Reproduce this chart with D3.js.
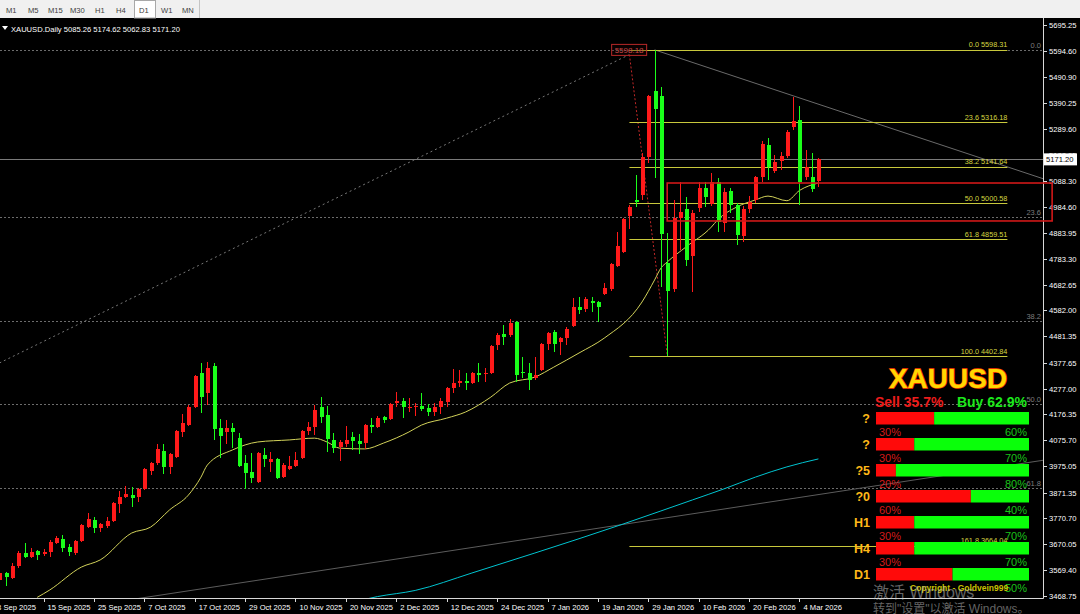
<!DOCTYPE html>
<html><head><meta charset="utf-8">
<script src="https://cdn.jsdelivr.net/npm/d3@7"></script>
<style>html,body{margin:0;padding:0;background:#000;overflow:hidden}</style>
</head><body><svg id="c" width="1080" height="614"></svg>
<script>
// ---------------- DATA ----------------
const opens=[3531,3558,3539,3585,3636,3620,3644,3632,3640,3675,
3691,3659,3636,3683,3737,3765,3734,3741,3761,3827,
3854,3862,3854,3886,3956,3987,4034,3971,4010,4108,
4135,4205,4338,4260,4365,4124,4108,4124,4085,3987,
3952,3913,4018,3991,4003,3932,3964,3975,4007,4112,
4127,4205,4174,4077,4049,4061,4088,4073,4065,4135,
4127,4166,4159,4221,4229,4202,4205,4209,4202,4186,
4205,4225,4280,4299,4307,4299,4338,4334,4338,4447,
4490,4486,4537,4342,4338,4319,4350,4451,4498,4459,
4475,4521,4595,4588,4619,4615,4646,4666,4755,4810,
4950,5013,5032,5180,5438,5418,4767,4666,4943,4978,
4794,4982,5060,4997,5083,4923,5048,4993,4872,4978,
5013,5102,5227,5126,5165,5184,5297,5325,5102,5102,
5085.26];
const highs=[3570,3562,3597,3644,3675,3656,3648,3652,3687,3702,
3706,3671,3687,3749,3792,3776,3753,3776,3835,3878,
3897,3893,3890,3968,3991,4061,4061,4026,4116,4178,
4213,4330,4377,4381,4377,4159,4155,4143,4104,4018,
4026,4030,4046,4030,4007,3987,4014,4030,4116,4147,
4213,4244,4209,4104,4077,4131,4108,4100,4139,4163,
4170,4170,4221,4264,4241,4241,4221,4260,4217,4221,
4241,4283,4354,4350,4338,4342,4377,4358,4447,4494,
4525,4549,4541,4400,4377,4400,4455,4498,4506,4478,
4517,4631,4634,4634,4634,4619,4689,4767,4888,4943,
4993,5110,5196,5422,5598.31,5453,4884,5013,5083,5024,
4974,5083,5083,5118,5099,5060,5060,5001,4989,5028,
5106,5243,5255,5188,5200,5286,5414,5379,5208,5196,
5174.62];
const lows=[3519,3507,3535,3578,3617,3617,3609,3624,3620,3671,
3640,3624,3628,3679,3734,3714,3718,3734,3757,3792,
3851,3815,3835,3882,3940,3979,3944,3944,4007,4088,
4131,4202,4182,4213,4077,4007,4061,4046,3971,3886,
3909,3909,3971,3952,3925,3929,3960,3971,4003,4096,
4096,4143,4030,4026,3995,4049,4038,4022,4042,4104,
4124,4143,4155,4205,4163,4186,4170,4190,4170,4170,
4178,4205,4260,4283,4272,4295,4303,4303,4334,4428,
4447,4478,4303,4319,4272,4311,4346,4428,4420,4408,
4447,4517,4568,4576,4576,4537,4642,4658,4751,4806,
4900,4985,5013,5157,5099,4673,4402.84,4654,4818,4755,
4654,4966,4985,4989,4888,4888,4962,4837,4849,4962,
5001,5083,5091,5118,5130,5177,5286,4993,5091,5044,
5062.83];
const closes=[3558,3542,3585,3636,3620,3640,3628,3640,3679,3695,
3656,3640,3683,3745,3769,3734,3749,3761,3831,3854,
3866,3851,3886,3964,3987,4042,3971,4022,4112,4143,
4205,4326,4244,4358,4120,4092,4124,4108,3975,3948,
3929,4026,4003,4003,3929,3979,3975,3999,4112,4127,
4194,4166,4081,4046,4069,4077,4073,4061,4135,4127,
4163,4155,4217,4229,4205,4206,4209,4198,4186,4205,
4229,4280,4299,4307,4299,4338,4330,4337,4443,4486,
4478,4533,4330,4338,4311,4330,4451,4494,4451,4475,
4510,4595,4584,4627,4611,4595,4670,4763,4833,4939,
4985,5005,5180,5418,5368,4880,4658,4943,4966,4779,
4962,5060,5024,5083,4927,5044,4993,4876,4978,5005,
5102,5231,5141,5161,5184,5278,5321,5083,5141,5056,
5171.20];

const dateLabels=["8 Sep 2025","15 Sep 2025","25 Sep 2025","7 Oct 2025","17 Oct 2025","29 Oct 2025","10 Nov 2025","20 Nov 2025","2 Dec 2025","12 Dec 2025","24 Dec 2025","7 Jan 2026","19 Jan 2026","29 Jan 2026","10 Feb 2026","20 Feb 2026","4 Mar 2026"];
const dateBars=[-1,7,15,23,31,39,47,55,63,71,79,87,95,103,111,119,127];
const priceTicks=[5695.25,5594.60,5490.90,5390.25,5289.60,5188.95,5088.30,4984.60,4883.95,4783.30,4682.65,4582.00,4481.35,4377.65,4277.00,4176.35,4075.70,3975.05,3871.35,3770.70,3670.05,3569.40,3468.75];

const maYellow=[[6,3463],[8,3492],[13,3581],[16,3609],[21,3714],[24,3737],[27,3804],[30,3862],[32,3932],[33,3979],[37,4038],[41,4069],[46,4077],[50,4084],[52,4069],[54,4045],[58,4042],[61,4065],[65,4108],[67,4135],[71,4162],[74,4186],[78,4244],[81,4299],[85,4322],[88,4361],[92,4416],[96,4474],[102,4615],[104,4701],[105,4747],[106,4771],[109,4830],[113,4907],[114,4935],[117,4985],[120,5013],[122,5028],[125,5010],[127,5050],[130,5079]];
const maCyan=[[57,3450],[60,3466],[66,3490],[75,3558],[85,3636],[99,3749],[105,3800],[110,3843],[115,3886],[120,3932],[125,3972],[130,4003]];

const fibYellowHigh=5598.31, fibYellowLow=4402.84;
const fibYellowLevels=[0,23.6,38.2,50,61.8,100,161.8];
const fibYellowBars=[100,160];
const fibGreyHigh=5596, fibGreyLow=2836;
const fibGreyLevels=[0,23.6,38.2,50,61.8];

const trendDown=[[104,5598.31],[166,5093]];
const trendUp=[[20,3451],[166,3999]];
const dottedGrey=[[0,4377],[100,5580]];
const dottedRed=[[100,5580],[106,4410]];
const zoneBars=[106,167.1], zonePrices=[5079,4931];
const markLabel={bar:97.5,price:5598.18};
const lastPrice=5171.20;
const headerText="XAUUSD.Daily 5085.26 5174.62 5062.83 5171.20";
const timeframes=["M1","M5","M15","M30","H1","H4","D1","W1","MN"];
const tfX=[6,28,48,70,95,116,139,161,182];

const panelRows=["?","?","?5","?0","H1","H4","D1"];
const sellBar=[38,25,13,62,25,25,50];
const sellPct=["30%","30%","20%","60%","30%","30%",""];
const buyPct=["60%","70%","80%","40%","70%","70%","50%"];
const sellTotal="Sell 35.7%", buyTotal="Buy 62.9%";

// ---------------- DRAW ----------------
const F="Liberation Sans, Arial, sans-serif";
const svg=d3.select("#c");
svg.append("rect").attr("width",1080).attr("height",614).attr("fill","#000");

const x=d3.scaleLinear().domain([0,130]).range([-0.6,818.4]);
const y=d3.scaleLinear().domain([3468.75,5695.25]).range([595.9,25]);

// toolbar
svg.append("rect").attr("x",0).attr("y",0).attr("width",1080).attr("height",18).attr("fill","#f0f0f0");
svg.append("rect").attr("x",134.5).attr("y",0.5).attr("width",21).attr("height",17.5).attr("fill","#fff").attr("stroke","#a8a8a8");
svg.append("line").attr("x1",199.5).attr("x2",199.5).attr("y1",0).attr("y2",18).attr("stroke","#c4c4c4");
svg.selectAll("text.tf").data(timeframes).enter().append("text")
  .attr("x",(d,i)=>tfX[i]).attr("y",12.5).attr("font-family",F).attr("font-size",7.6)
  .attr("fill","#404040").text(d=>d);

const defs=svg.append("defs");
defs.append("clipPath").attr("id","clip").append("rect").attr("x",0).attr("y",18).attr("width",1043).attr("height",580);
const g=svg.append("g").attr("clip-path","url(#clip)");

// grey fib dashed levels
const greyP=l=>fibGreyHigh-l/100*(fibGreyHigh-fibGreyLow);
g.selectAll("line.gf").data(fibGreyLevels).enter().append("line")
  .attr("x1",0).attr("x2",1043).attr("y1",d=>Math.round(y(greyP(d)))+0.5).attr("y2",d=>Math.round(y(greyP(d)))+0.5)
  .attr("stroke","#6c6c6c").attr("stroke-dasharray","2,2");
g.selectAll("text.gf").data(fibGreyLevels).enter().append("text")
  .attr("x",1041).attr("y",d=>y(greyP(d))-2).attr("text-anchor","end")
  .attr("font-family",F).attr("font-size",7.5).attr("fill","#7c7c7c").text(d=>d.toFixed(1));

const seg=(pts,stroke,dash,w)=>g.append("line")
  .attr("x1",x(pts[0][0])).attr("y1",y(pts[0][1])).attr("x2",x(pts[1][0])).attr("y2",y(pts[1][1]))
  .attr("stroke",stroke).attr("stroke-width",w||1).attr("stroke-dasharray",dash||null);
seg(dottedGrey,"#777","2,3");
seg(trendUp,"#5c5c5c");
seg(trendDown,"#6a6a6a");
seg(dottedRed,"#c02828","2,2");

// current price line
g.append("line").attr("x1",0).attr("x2",1043).attr("y1",Math.round(y(lastPrice))+0.5).attr("y2",Math.round(y(lastPrice))+0.5).attr("stroke","#7a7a7a");

// moving averages
const ln=d3.line().x(d=>x(d[0])).y(d=>y(d[1])).curve(d3.curveMonotoneX);
g.append("path").attr("d",ln(maCyan)).attr("fill","none").attr("stroke","#00c4d0").attr("stroke-width",1);
g.append("path").attr("d",ln(maYellow)).attr("fill","none").attr("stroke","#d2d25a").attr("stroke-width",1);

// yellow fibonacci
const yelP=l=>fibYellowHigh-l/100*(fibYellowHigh-fibYellowLow);
g.selectAll("line.yf").data(fibYellowLevels).enter().append("line")
  .attr("x1",x(fibYellowBars[0])).attr("x2",x(fibYellowBars[1]))
  .attr("y1",d=>Math.round(y(yelP(d)))+0.5).attr("y2",d=>Math.round(y(yelP(d)))+0.5)
  .attr("stroke","#c8c83c");
g.selectAll("text.yf").data(fibYellowLevels).enter().append("text")
  .attr("x",x(fibYellowBars[1])).attr("y",d=>y(yelP(d))-2.5).attr("text-anchor","end")
  .attr("font-family",F).attr("font-size",7.3).attr("fill","#d6d640")
  .text(d=>d.toFixed(1)+" "+yelP(d).toFixed(2));

// candles
const idx=d3.range(opens.length);
const cg=g.append("g").attr("shape-rendering","crispEdges");
const col=i=>closes[i]>=opens[i]?"#ff1a1a":"#1aff1a";
cg.selectAll("line.w").data(idx).enter().append("line")
  .attr("x1",i=>Math.round(x(i))+0.5).attr("x2",i=>Math.round(x(i))+0.5)
  .attr("y1",i=>y(highs[i])).attr("y2",i=>y(lows[i])).attr("stroke",col);
cg.selectAll("rect.b").data(idx).enter().append("rect")
  .attr("x",i=>Math.round(x(i))-1.5).attr("width",4)
  .attr("y",i=>y(Math.max(opens[i],closes[i])))
  .attr("height",i=>Math.max(1,Math.abs(y(opens[i])-y(closes[i]))))
  .attr("fill",col);

// marker label 5598.18
const mx=x(markLabel.bar), my=y(markLabel.price);
svg.append("rect").attr("x",mx-2).attr("y",my-5.5).attr("width",35).attr("height",11)
  .attr("fill","#200000").attr("fill-opacity",0.3).attr("stroke","#b82828");
svg.append("text").attr("x",mx+1).attr("y",my+3).attr("font-family",F).attr("font-size",8)
  .attr("fill","#c84848").text(markLabel.price.toFixed(2));

// header
svg.append("path").attr("d","M2,26 L8,26 L5,30 Z").attr("fill","#fff");
svg.append("text").attr("x",11).attr("y",32).attr("font-family",F).attr("font-size",7.6).attr("fill","#fff").text(headerText);

// axes
svg.append("line").attr("x1",1043.5).attr("x2",1043.5).attr("y1",18).attr("y2",598.5).attr("stroke","#d8d8d8");
svg.append("line").attr("x1",0).attr("x2",1043.5).attr("y1",598.5).attr("y2",598.5).attr("stroke","#d8d8d8");
svg.selectAll("line.pt").data(priceTicks).enter().append("line")
  .attr("x1",1043.5).attr("x2",1047).attr("y1",d=>Math.round(y(d))+0.5).attr("y2",d=>Math.round(y(d))+0.5).attr("stroke","#d8d8d8");
svg.selectAll("text.pt").data(priceTicks).enter().append("text")
  .attr("x",1049).attr("y",d=>y(d)+3).attr("font-family",F).attr("font-size",7.6).attr("fill","#fff").text(d=>d.toFixed(2));
svg.selectAll("line.dt").data(dateBars).enter().append("line")
  .attr("x1",d=>Math.round(x(d))+0.5).attr("x2",d=>Math.round(x(d))+0.5).attr("y1",598.5).attr("y2",602).attr("stroke","#d8d8d8");
svg.selectAll("text.dt").data(dateLabels).enter().append("text")
  .attr("x",(d,i)=>x(dateBars[i])+4).attr("y",610).attr("font-family",F).attr("font-size",7.6).attr("fill","#fff").text(d=>d);

// last price label
const ly=y(lastPrice);
svg.append("rect").attr("x",1044).attr("y",ly-6).attr("width",33).attr("height",12).attr("fill","#fff");
svg.append("text").attr("x",1046).attr("y",ly+3).attr("font-family",F).attr("font-size",7.6).attr("fill","#000").text(lastPrice.toFixed(2));

// zone rectangle
svg.append("rect").attr("x",x(zoneBars[0])).attr("y",y(zonePrices[0]))
  .attr("width",x(zoneBars[1])-x(zoneBars[0])).attr("height",y(zonePrices[1])-y(zonePrices[0]))
  .attr("fill","none").attr("stroke","#d01818").attr("stroke-width",1.6);

// signal panel
const P=svg.append("g");
P.append("text").attr("x",948).attr("y",388).attr("text-anchor","middle").attr("font-family",F)
  .attr("font-weight","bold").attr("font-size",28).attr("fill","#ffd700").attr("stroke","#ff3a00")
  .attr("stroke-width",1.4).attr("paint-order","stroke").text("XAUUSD");
P.append("text").attr("x",875).attr("y",407).attr("font-family",F).attr("font-weight","bold").attr("font-size",14).attr("fill","#ee1c1c").text(sellTotal);
P.append("text").attr("x",1027).attr("y",407).attr("text-anchor","end").attr("font-family",F).attr("font-weight","bold").attr("font-size",14).attr("fill","#1ce81c").text(buyTotal);
const bx=876, bw=153, bh=12.5;
const rowTop=i=>412+i*26;
panelRows.forEach((r,i)=>{
  const t=rowTop(i);
  P.append("rect").attr("x",bx).attr("y",t).attr("width",bw*sellBar[i]/100).attr("height",bh).attr("fill","#ff0a0a");
  P.append("rect").attr("x",bx+bw*sellBar[i]/100).attr("y",t).attr("width",bw*(1-sellBar[i]/100)).attr("height",bh).attr("fill","#0aff0a");
  P.append("text").attr("x",870).attr("y",t+11).attr("text-anchor","end").attr("font-family",F).attr("font-weight","bold").attr("font-size",12.5).attr("fill","#ffb818").text(r);
  if(sellPct[i]) P.append("text").attr("x",879).attr("y",t+bh+11).attr("font-family",F).attr("font-size",11).attr("fill","#d41a1a").text(sellPct[i]);
  P.append("text").attr("x",1027).attr("y",t+bh+11).attr("text-anchor","end").attr("font-family",F).attr("font-size",11).attr("fill","#1ac21a").text(buyPct[i]);
});
P.append("text").attr("x",910).attr("y",591).attr("font-family",F).attr("font-weight","bold").attr("font-size",8.5).attr("fill","#c8c000").text("Copyright - Goldvein999");

// watermark
const WF="Liberation Sans, Noto Sans CJK SC, sans-serif";
svg.append("text").attr("x",873).attr("y",598).attr("font-family",WF).attr("font-size",16).attr("fill","#c8c8c8").attr("fill-opacity",0.5).text("激活 Windows");
svg.append("text").attr("x",873).attr("y",613).attr("font-family",WF).attr("font-size",12).attr("fill","#c8c8c8").attr("fill-opacity",0.5).text("转到\"设置\"以激活 Windows。");
</script></body></html>
